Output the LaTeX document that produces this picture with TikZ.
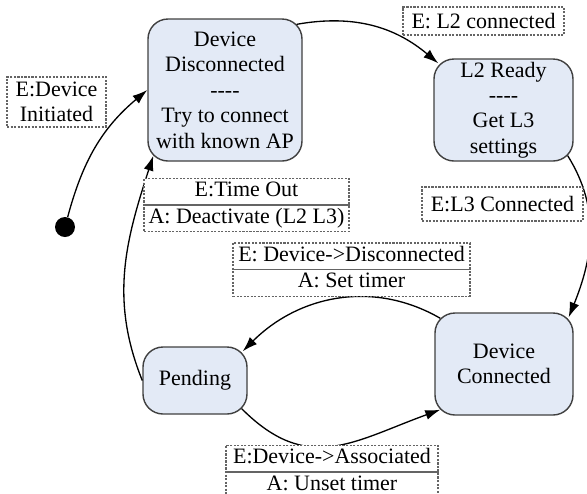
\documentclass[tikz,border=0pt]{standalone}
\usepackage{fontspec}
\setmainfont{Liberation Serif}
\definecolor{stfill}{RGB}{227,234,246}
\definecolor{stline}{RGB}{64,64,64}
\definecolor{lbline}{RGB}{100,100,100}
\usetikzlibrary{arrows.meta,calc,shapes.multipart}
\newcommand{\stfont}{\fontsize{12.5}{14.5}\selectfont}

\begin{document}
\begin{tikzpicture}[
    st/.style={rectangle, rounded corners=0.4cm, draw=stline, fill=stfill, line width=0.8pt,
               align=center, font=\stfont, inner sep=1pt},
    lbl/.style={rectangle, draw=lbline, dash pattern=on 1.2pt off 0.8pt, fill=white,
                line width=0.6pt, align=center, font=\stfont, inner sep=1pt},
    lbltwo/.style={lbl, rectangle split, rectangle split parts=2,
                   rectangle split draw splits=false, inner ysep=0pt},
    divline/.style={lbline, line width=0.6pt},
    trans/.style={-{Latex[length=3mm,width=2mm]}, line width=0.75pt, black}
  ]
    \useasboundingbox (0,0) rectangle (11.74,-9.86);

    % States
    \node[st, minimum width=3.08cm, minimum height=2.84cm] (disc)  at (4.5,-1.8)
        {Device\\Disconnected\\{-}{-}{-}{-}\\Try to connect\\with known AP};
    \node[st, minimum width=2.78cm, minimum height=2.04cm] (ready) at (10.07,-2.2)
        {L2 Ready\\{-}{-}{-}{-}\\Get L3\\settings};
    \node[st, minimum width=2.76cm, minimum height=2.04cm] (conn)  at (10.08,-7.28)
        {Device\\Connected};
    \node[st, minimum width=2.08cm, minimum height=1.34cm] (pend)  at (3.9,-7.61) {Pending};
    \node[circle, fill=black, minimum size=0.4cm, inner sep=0pt] (init) at (1.3,-4.54) {};

    % Transitions
    \draw[trans] (init) to[out=75,in=220] (disc.west);
    \draw[trans] ($(disc.north east)+(-0.12,-0.12)$) to[out=10,in=140]
        ($(ready.north west)+(0.1,-0.1)$);
    \draw[trans] ($(ready.south east)+(-0.12,0.12)$) to[out=-58,in=68]
        ($(conn.north east)+(-0.1,-0.1)$);
    \draw[trans] ($(conn.north west)+(0.12,-0.12)$) to[out=150,in=45]
        ($(pend.north east)+(-0.1,-0.1)$);
    \draw[trans] ($(pend.south east)+(-0.12,0.12)$) to[out=-45,in=200,looseness=1.2]
        ($(conn.south west)+(0.12,0.12)$);
    \draw[trans] (pend.west) to[out=112,in=252]
        ($(disc.south west)+(0.12,0.12)$);

    % Labels
    \node[lbl, minimum width=1.98cm, minimum height=1.0cm]  (lbinit)  at (1.13,-2.04) {E:Device\\Initiated};
    \node[lbl, minimum width=3.22cm, minimum height=0.56cm] (lbready) at (9.67,-0.42) {E: L2 connected};
    \node[lbl, minimum width=3.22cm, minimum height=0.68cm] (lbconn)  at (10.05,-4.08) {E:L3 Connected};
    \node[lbltwo, minimum width=4.1cm]  (lbout)   at (4.93,-4.1)
        {\strut E:Time Out\nodepart{two}\strut A: Deactivate (L2 L3)};
    \node[lbltwo, minimum width=4.74cm] (lbdisc)  at (7.03,-5.39)
        {\strut E: Device->Disconnected\nodepart{two}\strut A: Set timer};
    \node[lbltwo, minimum width=4.24cm] (lbassoc) at (6.64,-9.44)
        {\strut E:Device->Associated\nodepart{two}\strut A: Unset timer};
    \draw[divline] (lbout.text split west)   -- (lbout.text split east);
    \draw[divline] (lbdisc.text split west)  -- (lbdisc.text split east);
    \draw[divline] (lbassoc.text split west) -- (lbassoc.text split east);
  \end{tikzpicture}
\end{document}
